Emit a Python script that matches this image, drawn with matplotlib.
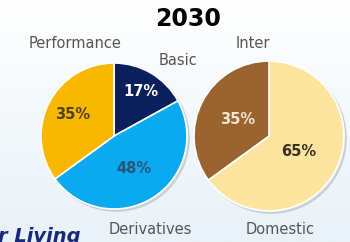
import numpy as np
import matplotlib
matplotlib.use("Agg")
import matplotlib.pyplot as plt
from matplotlib.patches import Circle

# data
title = "2030"
left_labels = ["Basic", "Derivatives", "Performance"]
left_values = [17, 48, 35]
left_colors = ["#0b1f5c", "#0aaaf0", "#f9b700"]
left_pct_colors = ["white", "#2a5374", "#4e4218"]
left_pct_dist = [0.71, 0.52, 0.64]

right_labels = ["Domestic", "Inter"]
right_values = [65, 35]
right_colors = ["#fde5a0", "#9b6330"]
right_pct_colors = ["#3a3020", "#f5e6d0"]
right_pct_dist = [0.45, 0.47]

W, H = 350, 242
fig = plt.figure(figsize=(W / 100, H / 100), dpi=100)

# soft background gradient
bg = fig.add_axes([0, 0, 1, 1])
grad = np.linspace(0, 1, 100).reshape(-1, 1)
bg.imshow(grad, aspect="auto", cmap=matplotlib.colors.LinearSegmentedColormap.from_list(
    "bg", ["#ffffff", "#e9f2f8"]), extent=[0, 1, 0, 1], origin="upper")
bg.axis("off")


def draw_pie(cx, cy, r, values, colors, pct_colors, pct_dist):
    # r is the drawn radius in pixels
    box = r * 1.06
    ax = fig.add_axes([(cx - box) / W, (H - cy - box) / H, 2 * box / W, 2 * box / H])
    # faint shadow
    ax.add_patch(Circle((0.03, -0.03), 1.0, color="#9aa6b0", alpha=0.35, zorder=0))
    wedges, _ = ax.pie(values, colors=colors, startangle=90, counterclock=False,
                       radius=1.0, wedgeprops=dict(edgecolor="white", linewidth=1.2))
    ax.set_xlim(-1.06, 1.06)
    ax.set_ylim(-1.06, 1.06)
    ax.axis("off")
    for w, v, c, d in zip(wedges, values, pct_colors, pct_dist):
        ang = np.deg2rad((w.theta1 + w.theta2) / 2)
        ax.text(d * np.cos(ang), d * np.sin(ang), f"{v}%", ha="center", va="center",
                fontsize=10.5, fontweight="bold", color=c)
    return ax


draw_pie(114, 136, 73, left_values, left_colors, left_pct_colors, left_pct_dist)
draw_pie(269, 136, 75, right_values, right_colors, right_pct_colors, right_pct_dist)

fig.text(188 / W, 1 - 19 / H, title, ha="center", va="center", fontsize=17,
         fontweight="bold", color="black")

lab_kw = dict(ha="center", va="center", fontsize=10.5, color="#555555")
fig.text(75 / W, 1 - 43 / H, left_labels[2], **lab_kw)
fig.text(178 / W, 1 - 61 / H, left_labels[0], **lab_kw)
fig.text(150 / W, 1 - 229 / H, left_labels[1], **lab_kw)
fig.text(253 / W, 1 - 43 / H, right_labels[1], **lab_kw)
fig.text(280 / W, 1 - 229 / H, right_labels[0], **lab_kw)

# partial logo text, cut by the bottom edge as in the source image
fig.text(-2 / W, 1 - 237 / H, "r Living", ha="left", va="center", fontsize=14,
         fontweight="bold", fontstyle="italic", color="#16297a")

fig.savefig("out.png", dpi=100)
